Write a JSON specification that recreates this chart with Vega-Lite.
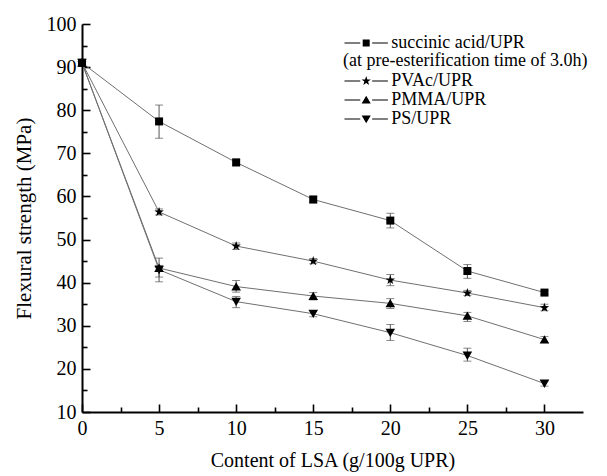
{
  "$schema": "https://vega.github.io/schema/vega-lite/v6.json",
  "width": 501,
  "height": 388,
  "autosize": {"type": "none"},
  "padding": {"left": 82, "top": 24, "right": 24, "bottom": 64},
  "background": "white",
  "config": {
    "view": {"stroke": null},
    "font": "Liberation Serif",
    "axis": {"grid": false, "zindex": 2, "labelFlush": false, "domainColor": "black", "tickColor": "black", "labelColor": "black", "titleColor": "black", "labelFont": "Liberation Serif", "titleFont": "Liberation Serif", "titleFontWeight": "normal", "labelFontSize": 20, "titleFontSize": 20, "domainWidth": 2, "tickWidth": 1.6},
    "legend": {"labelFont": "Liberation Serif", "titleFont": "Liberation Serif", "labelFontSize": 18, "titleFontSize": 18, "titleFontWeight": "normal", "labelColor": "black", "titleColor": "black", "titleLimit": 400, "labelLimit": 300}
  },
  "data": {
    "values": [
      {"s": "succinic acid/UPR", "x": 0, "y": 91.0, "lo": 90.6, "hi": 91.4},
      {"s": "succinic acid/UPR", "x": 5, "y": 77.4, "lo": 73.5, "hi": 81.2},
      {"s": "succinic acid/UPR", "x": 10, "y": 67.9, "lo": 67.1, "hi": 68.6},
      {"s": "succinic acid/UPR", "x": 15, "y": 59.3, "lo": 58.5, "hi": 60.0},
      {"s": "succinic acid/UPR", "x": 20, "y": 54.4, "lo": 52.7, "hi": 56.1},
      {"s": "succinic acid/UPR", "x": 25, "y": 42.7, "lo": 41.0, "hi": 44.2},
      {"s": "succinic acid/UPR", "x": 30, "y": 37.7, "lo": 37.2, "hi": 38.2},
      {"s": "PVAc/UPR", "x": 0, "y": 91.0, "lo": 90.6, "hi": 91.4},
      {"s": "PVAc/UPR", "x": 5, "y": 56.4, "lo": 55.7, "hi": 57.1},
      {"s": "PVAc/UPR", "x": 10, "y": 48.5, "lo": 47.7, "hi": 49.2},
      {"s": "PVAc/UPR", "x": 15, "y": 45.0, "lo": 44.4, "hi": 45.6},
      {"s": "PVAc/UPR", "x": 20, "y": 40.6, "lo": 39.3, "hi": 41.9},
      {"s": "PVAc/UPR", "x": 25, "y": 37.6, "lo": 37.0, "hi": 38.2},
      {"s": "PVAc/UPR", "x": 30, "y": 34.2, "lo": 33.5, "hi": 35.0},
      {"s": "PMMA/UPR", "x": 0, "y": 91.0, "lo": 90.6, "hi": 91.4},
      {"s": "PMMA/UPR", "x": 5, "y": 43.4, "lo": 41.3, "hi": 45.7},
      {"s": "PMMA/UPR", "x": 10, "y": 39.1, "lo": 37.8, "hi": 40.5},
      {"s": "PMMA/UPR", "x": 15, "y": 36.9, "lo": 36.0, "hi": 37.7},
      {"s": "PMMA/UPR", "x": 20, "y": 35.2, "lo": 34.0, "hi": 36.3},
      {"s": "PMMA/UPR", "x": 25, "y": 32.3, "lo": 31.0, "hi": 33.1},
      {"s": "PMMA/UPR", "x": 30, "y": 26.8, "lo": 26.1, "hi": 27.5},
      {"s": "PS/UPR", "x": 0, "y": 91.0, "lo": 90.6, "hi": 91.4},
      {"s": "PS/UPR", "x": 5, "y": 43.0, "lo": 40.2, "hi": 44.0},
      {"s": "PS/UPR", "x": 10, "y": 35.6, "lo": 34.2, "hi": 36.8},
      {"s": "PS/UPR", "x": 15, "y": 32.8, "lo": 32.1, "hi": 33.5},
      {"s": "PS/UPR", "x": 20, "y": 28.4, "lo": 26.6, "hi": 30.3},
      {"s": "PS/UPR", "x": 25, "y": 23.1, "lo": 21.8, "hi": 24.8},
      {"s": "PS/UPR", "x": 30, "y": 16.6, "lo": 16.0, "hi": 17.2}
    ]
  },
  "resolve": {"scale": {"shape": "independent"}, "axis": {"x": "independent", "y": "independent"}},
  "layer": [
    {
      "mark": {"type": "line", "color": "#707070", "strokeWidth": 1},
      "encoding": {
        "x": {"field": "x", "type": "quantitative", "scale": {"domain": [0, 32.5], "nice": false, "zero": false},
              "axis": {"orient": "bottom", "values": [0, 5, 10, 15, 20, 25, 30], "ticks": false, "tickSize": 0, "labelPadding": 6, "title": "Content of LSA (g/100g UPR)", "titlePadding": 12}},
        "y": {"field": "y", "type": "quantitative", "scale": {"domain": [10, 100], "nice": false, "zero": false},
              "axis": {"orient": "left", "values": [10, 20, 30, 40, 50, 60, 70, 80, 90, 100], "ticks": false, "tickSize": 0, "labelPadding": 6, "title": "Flexural strength (MPa)", "titleFontSize": 21, "titlePadding": 12}},
        "detail": {"field": "s"}
      }
    },
    {
      "mark": {"type": "rule", "color": "#555555", "strokeWidth": 1},
      "encoding": {
        "x": {"field": "x", "type": "quantitative", "axis": null},
        "y": {"field": "lo", "type": "quantitative", "axis": null},
        "y2": {"field": "hi"}
      }
    },
    {
      "mark": {"type": "tick", "color": "#555555", "size": 8, "thickness": 1, "orient": "horizontal"},
      "encoding": {
        "x": {"field": "x", "type": "quantitative", "axis": null},
        "y": {"field": "lo", "type": "quantitative", "axis": null}
      }
    },
    {
      "mark": {"type": "tick", "color": "#555555", "size": 8, "thickness": 1, "orient": "horizontal"},
      "encoding": {
        "x": {"field": "x", "type": "quantitative", "axis": null},
        "y": {"field": "hi", "type": "quantitative", "axis": null}
      }
    },
    {
      "mark": {"type": "point", "filled": true, "color": "black", "opacity": 1, "size": 64},
      "encoding": {
        "x": {"field": "x", "type": "quantitative",
              "axis": {"orient": "bottom", "offset": -8, "values": [0, 5, 10, 15, 20, 25, 30], "tickSize": 8, "labels": false, "domain": false, "title": null}},
        "y": {"field": "y", "type": "quantitative",
              "axis": {"orient": "left", "offset": -8, "values": [10, 20, 30, 40, 50, 60, 70, 80, 90, 100], "tickSize": 8, "labels": false, "domain": false, "title": null}},
        "shape": {"field": "s", "type": "nominal", "legend": null,
                  "scale": {"domain": ["succinic acid/UPR", "PVAc/UPR", "PMMA/UPR", "PS/UPR"],
                            "range": ["square", "M0,-1.25L0.294,-0.405L1.189,-0.386L0.476,0.155L0.735,1.011L0,0.5L-0.735,1.011L-0.476,0.155L-1.189,-0.386L-0.294,-0.405Z", "M0,-1.1L1.2,1L-1.2,1Z", "M0,1.1L1.2,-1L-1.2,-1Z"]}}
      }
    },
    {
      "transform": [{"filter": "datum.s === 'succinic acid/UPR'"}],
      "mark": {"type": "point", "filled": true, "color": "black", "opacity": 0, "size": 196},
      "encoding": {
        "x": {"field": "x", "type": "quantitative",
              "axis": {"orient": "bottom", "offset": -5, "values": [2.5, 7.5, 12.5, 17.5, 22.5, 27.5], "tickSize": 5, "labels": false, "domain": false, "title": null}},
        "y": {"field": "y", "type": "quantitative",
              "axis": {"orient": "left", "offset": -5, "values": [15, 25, 35, 45, 55, 65, 75, 85, 95], "tickSize": 5, "labels": false, "domain": false, "title": null}},
        "shape": {"field": "s", "type": "nominal",
                  "scale": {"domain": ["succinic acid/UPR"], "range": ["M-3.1,-0.07H-0.85V0.07H-3.1ZM0.85,-0.07H3.1V0.07H0.85ZM-0.5,-0.5H0.5V0.5H-0.5Z"]},
                  "legend": {"title": null, "orient": "none", "legendX": 261, "legendY": 10, "padding": 0,
                             "symbolSize": 196, "symbolOffset": 14.2, "labelOffset": 16,
                             "symbolStrokeWidth": 0, "symbolFillColor": "black", "symbolOpacity": 1}}
      }
    },
    {
      "transform": [{"filter": "datum.s !== 'succinic acid/UPR'"}],
      "mark": {"type": "point", "filled": true, "color": "black", "opacity": 0, "size": 196},
      "encoding": {
        "x": {"field": "x", "type": "quantitative", "axis": null},
        "y": {"field": "y", "type": "quantitative", "axis": null},
        "shape": {"field": "s", "type": "nominal",
                  "scale": {"domain": ["PVAc/UPR", "PMMA/UPR", "PS/UPR"],
                            "range": ["M-3.1,-0.07H-0.85V0.07H-3.1ZM0.85,-0.07H3.1V0.07H0.85ZM0,-0.7L0.165,-0.227L0.666,-0.216L0.266,0.087L0.411,0.566L0,0.28L-0.411,0.566L-0.266,0.087L-0.666,-0.216L-0.165,-0.227Z",
                                      "M-3.1,-0.07H-0.85V0.07H-3.1ZM0.85,-0.07H3.1V0.07H0.85ZM0,-0.6L0.65,0.5L-0.65,0.5Z",
                                      "M-3.1,-0.07H-0.85V0.07H-3.1ZM0.85,-0.07H3.1V0.07H0.85ZM0,0.6L0.65,-0.5L-0.65,-0.5Z"]},
                  "legend": {"title": "(at pre-esterification time of 3.0h)", "orient": "none", "legendX": 261, "legendY": 28, "padding": 0,
                             "titlePadding": 2, "titleAnchor": "start", "titleAlign": "left", "rowPadding": 1,
                             "symbolSize": 196, "symbolOffset": 14.2, "labelOffset": 16,
                             "symbolStrokeWidth": 0, "symbolFillColor": "black", "symbolOpacity": 1}}
      }
    }
  ]
}
